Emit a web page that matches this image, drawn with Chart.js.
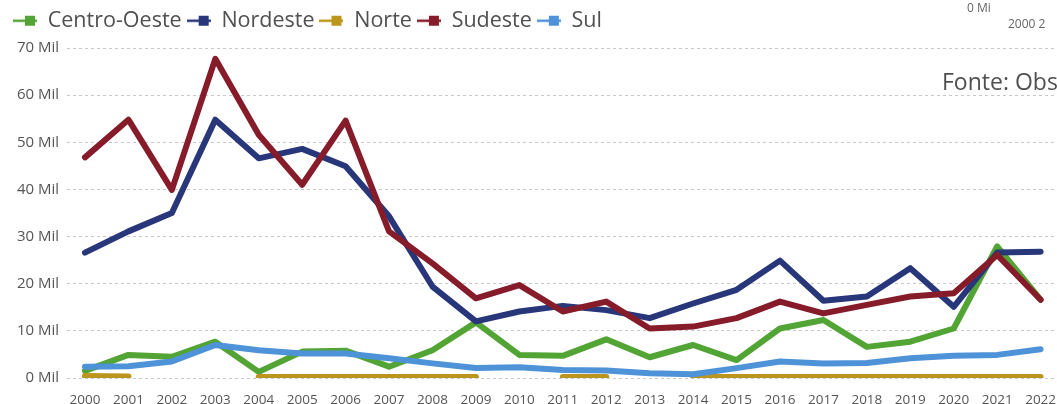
<!DOCTYPE html>
<html>
<head>
<meta charset="utf-8">
<script src="https://cdn.jsdelivr.net/npm/chart.js@4/dist/chart.umd.min.js"></script>
<style>
  html, body { margin: 0; padding: 0; background: #fff; overflow: hidden; }
</style>
</head>
<body>
<canvas id="myChart" width="1080" height="404"></canvas>
<script>
// anos e valores (em mil)
const years = [2000, 2001, 2002, 2003, 2004, 2005, 2006, 2007, 2008, 2009, 2010,
  2011, 2012, 2013, 2014, 2015, 2016, 2017, 2018, 2019, 2020, 2021, 2022];

const centroOeste = [1.5, 4.9, 4.5, 7.7, 1.3, 5.6, 5.8, 2.4, 5.9, 11.8, 4.9,
  4.7, 8.2, 4.4, 7.0, 3.8, 10.5, 12.3, 6.6, 7.7, 10.5, 27.9, 16.6];
const nordeste = [26.6, 31.1, 35.0, 54.8, 46.6, 48.6, 44.9, 34.3, 19.4, 12.0, 14.1,
  15.3, 14.4, 12.7, 15.8, 18.7, 24.9, 16.4, 17.3, 23.3, 15.1, 26.6, 26.8];
const norte = [0.4, 0.3, null, null, 0.2, 0.2, 0.2, 0.2, 0.2, 0.2, null,
  0.2, 0.2, null, 0.2, 0.2, 0.2, 0.2, 0.2, 0.2, 0.2, 0.2, 0.2];
const sudeste = [46.8, 54.8, 39.9, 67.7, 51.6, 41.0, 54.6, 31.1, 24.3, 16.9, 19.7,
  14.1, 16.2, 10.5, 10.9, 12.7, 16.2, 13.7, 15.5, 17.3, 18.0, 26.1, 16.6];
const sul = [2.4, 2.5, 3.5, 7.0, 5.9, 5.2, 5.2, 4.2, 3.1, 2.1, 2.3,
  1.7, 1.6, 1.0, 0.8, 2.1, 3.5, 3.1, 3.2, 4.2, 4.7, 4.9, 6.1];

const seriesNames = ["Centro-Oeste", "Nordeste", "Norte", "Sudeste", "Sul"];
const seriesData = [centroOeste, nordeste, norte, sudeste, sul];
const seriesColors = ["#52a435", "#28367a", "#bb951c", "#861b2a", "#4e93d8"];

const yTicks = [0, 10, 20, 30, 40, 50, 60, 70];

// little "-■-" marker for the legend
function makeMarker(color) {
  const c = document.createElement("canvas");
  c.width = 24;
  c.height = 12;
  const ctx = c.getContext("2d");
  ctx.strokeStyle = color;
  ctx.lineWidth = 2.5;
  ctx.beginPath();
  ctx.moveTo(0, 6);
  ctx.lineTo(24, 6);
  ctx.stroke();
  ctx.fillStyle = color;
  ctx.fillRect(12, 1, 10, 10);
  return c;
}

const datasets = seriesNames.map((name, i) => ({
  label: name,
  data: seriesData[i].map((v, j) => ({ x: years[j], y: v })),
  borderColor: seriesColors[i],
  backgroundColor: seriesColors[i],
  borderWidth: 6,
  pointRadius: 0,
  tension: 0,
  spanGaps: false,
  borderJoinStyle: "round",
  borderCapStyle: "round",
  pointStyle: makeMarker(seriesColors[i]),
  order: seriesNames.length - i
}));

// fixed legend height so the plot starts at the right place
const legendHeight = {
  id: "legendHeight",
  beforeInit(chart) {
    const fit = chart.legend.fit;
    chart.legend.fit = function () {
      fit.call(this);
      this.height = 43;
    };
  }
};

// leftover pieces of the page around the chart
const extraText = {
  id: "extraText",
  afterDraw(chart) {
    const ctx = chart.ctx;
    ctx.save();
    ctx.fillStyle = "#505050";
    ctx.textBaseline = "middle";
    ctx.font = "23px 'Open Sans'";
    ctx.fillText("Fonte: Obs", 942, 83);
    ctx.fillStyle = "#666";
    ctx.font = "12px 'Open Sans'";
    ctx.fillText("0 Mi", 967, 9);
    ctx.fillText("2000 2", 1008, 25);
    ctx.restore();
  }
};

const myChart = new Chart("myChart", {
  type: "line",
  data: { datasets: datasets },
  plugins: [legendHeight, extraText],
  options: {
    responsive: false,
    animation: false,
    layout: { padding: { left: 8, right: 9, top: 5, bottom: 0 } },
    plugins: {
      tooltip: { enabled: false },
      legend: {
        position: "top",
        align: "start",
        labels: {
          usePointStyle: true,
          pointStyleWidth: 24,
          padding: 5,
          color: "#505050",
          font: { family: "Open Sans", size: 21.5 },
          sort: (a, b) => a.datasetIndex - b.datasetIndex
        }
      }
    },
    scales: {
      x: {
        type: "linear",
        min: 1999.586,
        max: 2022.7,
        afterFit: s => { s.height = 26; },
        afterBuildTicks: s => {
          s.ticks = s.ticks.filter(t => years.includes(t.value));
        },
        grid: { display: false },
        border: { display: false },
        ticks: {
          stepSize: 1,
          includeBounds: false,
          autoSkip: false,
          maxRotation: 0,
          padding: 6,
          color: "#555",
          font: { family: "Open Sans", size: 13.5 },
          callback: v => String(v)
        }
      },
      y: {
        min: 0,
        max: 70,
        afterFit: s => { s.width = 59; },
        afterBuildTicks: s => {
          s.ticks = yTicks.map(v => ({ value: v }));
        },
        grid: { color: "#c8c8c8", lineWidth: 1, drawTicks: false },
        border: { display: false, dash: [3, 3] },
        ticks: {
          padding: 8,
          color: "#555",
          font: { family: "Open Sans", size: 15 },
          callback: v => v + " Mil"
        }
      }
    }
  }
});
</script>
</body>
</html>
